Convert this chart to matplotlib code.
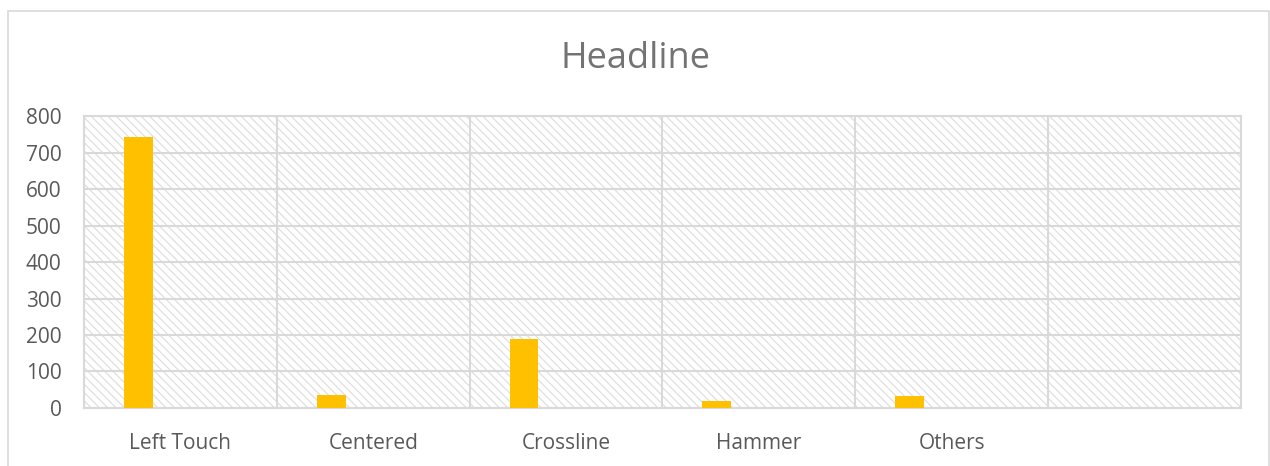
import matplotlib

matplotlib.use("Agg")
import matplotlib.pyplot as plt
import numpy as np
from matplotlib.patches import Rectangle

categories = ["Left Touch", "Centered", "Crossline", "Hammer", "Others", ""]
counts = [742, 36, 189, 19, 33, 0]
yticks = [0, 100, 200, 300, 400, 500, 600, 700, 800]

BAR_COLOR = "#FFC000"
GRID = "#d9d9d9"
TEXT = "#595959"

plt.rcParams["font.family"] = ["Open Sans", "DejaVu Sans"]
plt.rcParams["hatch.linewidth"] = 0.8
plt.rcParams["hatch.color"] = "#dcdcdc"

fig = plt.figure(figsize=(12.7, 4.66), dpi=100)
ax = fig.add_axes([0.0661, 0.1245, 0.9111, 0.6265])

# outer chart frame
fig.patches.append(Rectangle((8 / 1270, -0.01), 1261 / 1270, 1.01 - 11 / 466,
                             transform=fig.transFigure, fill=False,
                             edgecolor=GRID, linewidth=1.2))

# hatched plot area
ax.add_patch(Rectangle((0, 0), 1, 1, transform=ax.transAxes, facecolor="white",
                       hatch="\\\\\\\\", edgecolor="#dcdcdc", linewidth=0, zorder=0))

x = np.arange(len(categories))
ax.bar(x - 0.218, counts, width=0.15, color=BAR_COLOR, zorder=3)

ax.set_xlim(-0.5, len(categories) - 0.5)
ax.set_ylim(0, 800)
ax.set_yticks(yticks)
ax.set_xticks(x)
ax.set_xticklabels(categories)
ax.set_xticks(np.arange(len(categories) + 1) - 0.5, minor=True)

ax.grid(axis="y", which="major", color=GRID, linewidth=1.5, zorder=1)
ax.grid(axis="x", which="minor", color=GRID, linewidth=1.5, zorder=1)
ax.set_axisbelow(True)
ax.tick_params(which="both", length=0, labelsize=15, colors=TEXT)
ax.tick_params(axis="y", pad=16)
ax.tick_params(axis="x", pad=18)
for s in ax.spines.values():
    s.set_color(GRID)
    s.set_linewidth(1.5)

fig.text(0.5, 0.873, "Headline", ha="center", va="center", fontsize=26, color="#737373")

fig.savefig("out.png", dpi=100)
